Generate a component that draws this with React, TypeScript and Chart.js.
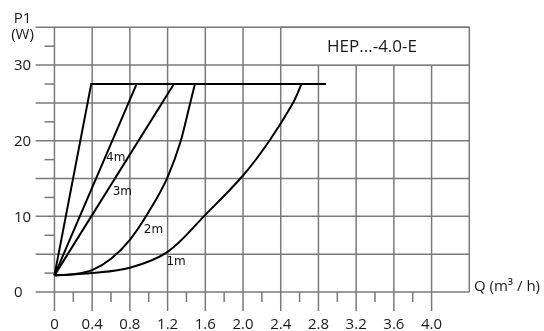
import React, { useEffect, useRef } from "react";
import { Chart, registerables } from "chart.js";

Chart.register(...registerables);

// ---- data ----
const maxQ = [0, 0.39, 2.88];
const maxP = [2.2, 27.5, 27.5];
const q4m = [0, 0.871];
const p4m = [2.2, 27.5];
const q3m = [0, 1.267];
const p3m = [2.2, 27.5];
const q2m = [0, 0.2, 0.4, 0.6, 0.8, 1.0, 1.2, 1.34, 1.44, 1.49];
const p2m = [2.2, 2.35, 2.9, 4.4, 6.9, 10.6, 15.2, 20, 25, 27.5];
const q1m = [0, 0.4, 0.8, 1.2, 1.6, 2.0, 2.28, 2.53, 2.62];
const p1m = [2.2, 2.5, 3.2, 5.3, 10.2, 15.4, 20, 25, 27.5];

const curveLabels = ["4m", "3m", "2m", "1m"];
const curveLabelQ = [0.65, 0.72, 1.05, 1.29];
const curveLabelP = [17.7, 13.2, 8.2, 4.0];

const xTickValues = [0, 0.4, 0.8, 1.2, 1.6, 2.0, 2.4, 2.8, 3.2, 3.6, 4.0];
const xTickLabels = ["0", "0.4", "0.8", "1.2", "1.6", "2.0", "2.4", "2.8", "3.2", "3.6", "4.0"];
const xMinorValues = [0.2, 0.6, 1.0, 1.4, 1.8, 2.2, 2.6, 3.0, 3.4, 3.8];
const yGridValues = [0, 5, 10, 15, 20, 25, 30, 35];
const yTickValues = [0, 10, 20, 30];
const yTickLabels = ["0", "10", "20", "30"];
const yMinorValues = [2.5, 7.5, 12.5, 17.5, 22.5, 27.5, 32.5];

const titleText = "HEP...-4.0-E";
const xAxisTitle = "Q (m\u00B3 / h)";
const yAxisTitle = ["P1", "(W)"];

const GRID = "#7a7a7a";
const TEXT = "#1a1a1a";
const FONT = "'Open Sans', 'Noto Sans', sans-serif";

const toPts = (qs: number[], ps: number[]) => qs.map((q, i) => ({ x: q, y: ps[i] }));

const decorPlugin = {
  id: "decor",
  beforeDatasetsDraw(chart: any) {
    const { ctx, chartArea, scales } = chart;
    const { left, right, top, bottom } = chartArea;
    const xs = scales.x;
    const ys = scales.y;
    const x0 = xs.getPixelForValue(0);
    const y0 = ys.getPixelForValue(0);
    const line = (a: number, b: number, c: number, d: number) => {
      ctx.beginPath();
      ctx.moveTo(a, b);
      ctx.lineTo(c, d);
      ctx.stroke();
    };
    ctx.save();
    ctx.strokeStyle = GRID;
    ctx.lineWidth = 1.5;
    // vertical grid
    xTickValues.forEach((v) => {
      const px = xs.getPixelForValue(v);
      line(px, top, px, bottom);
    });
    const pr = xs.getPixelForValue(4.4);
    line(pr, top, pr, y0);
    // horizontal grid
    yGridValues.forEach((v) => {
      const py = ys.getPixelForValue(v);
      line(left, py, right, py);
    });
    // minor ticks
    xMinorValues.forEach((v) => {
      const px = xs.getPixelForValue(v);
      line(px, y0, px, y0 + 10);
    });
    yMinorValues.forEach((v) => {
      const py = ys.getPixelForValue(v);
      line(x0 - 10, py, x0, py);
    });
    // title box
    const bx1 = xs.getPixelForValue(2.4);
    const bx2 = xs.getPixelForValue(4.4);
    const by1 = ys.getPixelForValue(35);
    const by2 = ys.getPixelForValue(30);
    ctx.fillStyle = "#fff";
    ctx.fillRect(bx1, by1, bx2 - bx1, by2 - by1);
    ctx.strokeRect(bx1, by1, bx2 - bx1, by2 - by1);
    ctx.fillStyle = TEXT;
    ctx.font = `17px ${FONT}`;
    ctx.textAlign = "center";
    ctx.textBaseline = "middle";
    ctx.fillText(titleText, (bx1 + bx2) / 2 - 3, (by1 + by2) / 2 + 1);

    // tick labels
    ctx.font = `15px ${FONT}`;
    ctx.textAlign = "center";
    ctx.textBaseline = "middle";
    xTickValues.forEach((v, i) => {
      ctx.fillText(xTickLabels[i], xs.getPixelForValue(v), 325);
    });
    ctx.textAlign = "left";
    yTickValues.forEach((v, i) => {
      ctx.fillText(yTickLabels[i], 14, ys.getPixelForValue(v) + 1);
    });
    // axis titles
    ctx.textAlign = "center";
    ctx.fillText(yAxisTitle[0], 22.5, 19);
    ctx.fillText(yAxisTitle[1], 22.5, 35);
    ctx.textAlign = "left";
    ctx.fillText(xAxisTitle, 474, 287);
    ctx.restore();
  },
  afterDatasetsDraw(chart: any) {
    const { ctx, scales } = chart;
    ctx.save();
    ctx.fillStyle = "#111";
    ctx.font = "12px 'DejaVu Sans', sans-serif";
    ctx.textAlign = "center";
    ctx.textBaseline = "middle";
    curveLabels.forEach((t, i) => {
      ctx.fillText(t, scales.x.getPixelForValue(curveLabelQ[i]), scales.y.getPixelForValue(curveLabelP[i]));
    });
    ctx.restore();
  },
};

export default function App() {
  const ref = useRef<HTMLCanvasElement | null>(null);
  useEffect(() => {
    if (!ref.current) return;
    const mk = (qs: number[], ps: number[], mode: string, tension: number) => ({
      data: toPts(qs, ps),
      borderColor: "#000",
      borderWidth: 2,
      pointRadius: 0,
      fill: false,
      tension,
      cubicInterpolationMode: mode,
    });
    const chart = new Chart(ref.current, {
      type: "line",
      data: {
        datasets: [
          mk(maxQ, maxP, "default", 0),
          mk(q4m, p4m, "default", 0),
          mk(q3m, p3m, "default", 0),
          mk(q2m, p2m, "monotone", 0),
          mk(q1m, p1m, "default", 0.35),
        ] as any,
      },
      options: {
        animation: false,
        responsive: false,
        events: [],
        layout: { padding: { left: 35.6, right: 74.7, top: 27.3, bottom: 20.1 } },
        plugins: { legend: { display: false }, tooltip: { enabled: false } },
        scales: {
          x: { type: "linear", min: -0.2, max: 4.4, display: false },
          y: { type: "linear", min: -2.5, max: 35, display: false },
        },
      },
      plugins: [decorPlugin],
    });
    return () => chart.destroy();
  }, []);
  return (
    <div style={{ position: "absolute", left: 0, top: 0, width: 544, height: 331, background: "#fff" }}>
      <canvas ref={ref} width={544} height={331} />
    </div>
  );
}
